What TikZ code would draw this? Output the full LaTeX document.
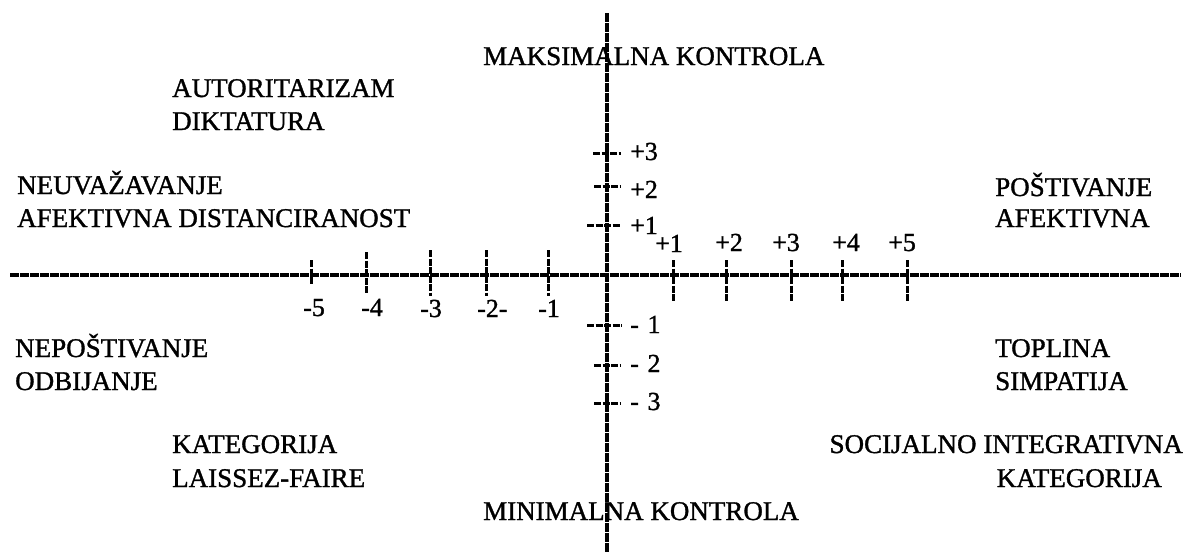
\documentclass[tikz,border=0pt]{standalone}
\usepackage{fontspec}
\setmainfont{Liberation Serif}[FakeBold=1.2]
\begin{document}
\begin{tikzpicture}[x=1pt,y=-1pt,
  axisline/.style={line width=3.2pt,dash pattern=on 9pt off 1pt},
  tickline/.style={line width=3pt,dash pattern=on 7pt off 1.5pt},
  lbl/.style={inner sep=0pt,font=\fontsize{27}{30}\selectfont},
  num/.style={inner sep=0pt,font=\fontsize{26}{28}\selectfont}]
\useasboundingbox (0,0) rectangle (1186,552);
% axes
\coordinate (hl) at (10,275);
\coordinate (hr) at (1181,275);
\coordinate (vt) at (607,13);
\coordinate (vb) at (607,552);
\draw[axisline] (hl) -- (hr);
\draw[axisline] (vt) -- (vb);
% horizontal ticks
\draw[tickline] (311,260) -- (311,284);
\draw[tickline] (366,252) -- (366,294);
\draw[tickline] (430,250) -- (430,296);
\draw[tickline] (486,250) -- (486,296);
\draw[tickline] (548,250) -- (548,296);
\draw[tickline] (673,260) -- (673,302);
\draw[tickline] (726,260) -- (726,302);
\draw[tickline] (791,260) -- (791,302);
\draw[tickline] (842,260) -- (842,302);
\draw[tickline] (907,260) -- (907,302);
% vertical ticks
\draw[tickline] (593,153) -- (621,153);
\draw[tickline] (594,186) -- (621,186);
\draw[tickline] (587,225) -- (621,225);
\draw[tickline] (587,325) -- (622,325);
\draw[tickline] (594,365) -- (621,365);
\draw[tickline] (594,403) -- (621,403);
% horizontal tick labels
\node[num,anchor=base west] (hm5) at (303,316) {-5};
\node[num,anchor=base west] (hm4) at (361,316) {-4};
\node[num,anchor=base west] (hm3) at (420,317) {-3};
\node[num,anchor=base west] (hm2) at (477,317) {-2-};
\node[num,anchor=base west] (hm1) at (538,317) {-1};
\node[num,anchor=base west] (hp1) at (655,252) {+1};
\node[num,anchor=base west] (hp2) at (715,251) {+2};
\node[num,anchor=base west] (hp3) at (772,251) {+3};
\node[num,anchor=base west] (hp4) at (832,251) {+4};
\node[num,anchor=base west] (hp5) at (888,251) {+5};
% vertical tick labels
\node[num,anchor=base west] (vp3) at (630,160) {+3};
\node[num,anchor=base west] (vp2) at (630,198) {+2};
\node[num,anchor=base west] (vp1) at (630,234) {+1};
\node[num,anchor=base west] (vm1) at (630,333) {-\,\,1};
\node[num,anchor=base west] (vm2) at (630,372) {-\,\,2};
\node[num,anchor=base west] (vm3) at (630,410) {-\,\,3};
% category labels
\node[lbl,anchor=base west] (mx) at (483,65) {MAKSIMALNA KONTROLA};
\node[lbl,anchor=base west] (mn) at (483,520) {MINIMALNA KONTROLA};
\node[lbl,anchor=base west] (aut) at (172,97) {AUTORITARIZAM};
\node[lbl,anchor=base west] (dik) at (172,130) {DIKTATURA};
\node[lbl,anchor=base west] (neu) at (17,194) {NEUVAŽAVANJE};
\node[lbl,anchor=base west] (afd) at (17,227) {AFEKTIVNA DISTANCIRANOST};
\node[lbl,anchor=base west] (pos) at (995,196) {POŠTIVANJE};
\node[lbl,anchor=base west] (afe) at (995,227) {AFEKTIVNA};
\node[lbl,anchor=base west] (nep) at (15,357) {NEPOŠTIVANJE};
\node[lbl,anchor=base west] (odb) at (15,390) {ODBIJANJE};
\node[lbl,anchor=base west] (top) at (995,357) {TOPLINA};
\node[lbl,anchor=base west] (sim) at (995,390) {SIMPATIJA};
\node[lbl,anchor=base west] (kat1) at (172,453) {KATEGORIJA};
\node[lbl,anchor=base west] (lai) at (172,487) {LAISSEZ-FAIRE};
\node[lbl,anchor=base east] (soc) at (1183,453) {SOCIJALNO INTEGRATIVNA};
\node[lbl,anchor=base east] (kat2) at (1162,487) {KATEGORIJA};
\end{tikzpicture}
\end{document}
